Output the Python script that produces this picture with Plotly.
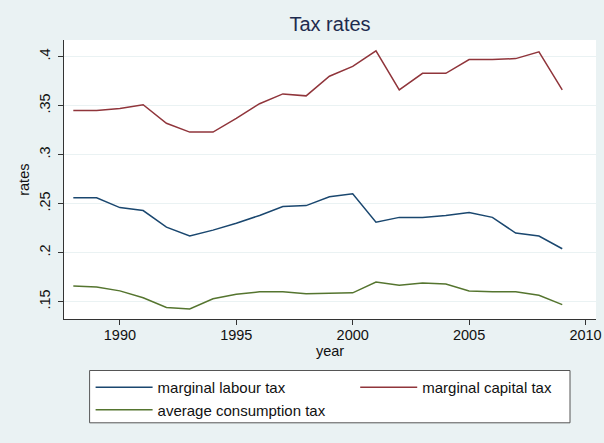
import plotly.graph_objects as go

years = list(range(1988, 2010))
labour = [0.256, 0.256, 0.246, 0.243, 0.226, 0.217, 0.223, 0.230, 0.238, 0.247, 0.248,
          0.257, 0.260, 0.231, 0.236, 0.236, 0.238, 0.241, 0.236, 0.220, 0.217, 0.204]
capital = [0.345, 0.345, 0.347, 0.351, 0.332, 0.323, 0.323, 0.337, 0.352, 0.362, 0.360,
           0.380, 0.390, 0.406, 0.366, 0.383, 0.383, 0.397, 0.397, 0.398, 0.405, 0.366]
consumption = [0.166, 0.165, 0.161, 0.154, 0.144, 0.1425, 0.153, 0.1575, 0.160, 0.160, 0.158,
               0.1585, 0.159, 0.170, 0.1667, 0.169, 0.168, 0.161, 0.160, 0.160, 0.1565, 0.147]

x_ticks = [1990, 1995, 2000, 2005, 2010]
y_ticks = [0.15, 0.2, 0.25, 0.3, 0.35, 0.4]
y_ticklabels = [".15", ".2", ".25", ".3", ".35", ".4"]

NB = "\u00a0"
series = [
    ("marginal labour tax", labour, "#1A476F"),
    ("marginal capital tax", capital, "#90353B"),
    ("average consumption tax" + NB * 6, consumption, "#55752F"),
]

FONT = "Liberation Sans, Arial, sans-serif"
W, H = 604, 443
PL, PR, PT, PB = 64, 596, 40, 319.3          # plot area in pixels
LG_L, LG_R, LG_T, LG_B = 89.6, 570, 370.5, 422.8  # legend box in pixels

fig = go.Figure()
for name, vals, col in series:
    fig.add_trace(go.Scatter(x=years, y=vals, mode="lines", name=name,
                             line=dict(color=col, width=1.5)))

# legend frame (white box with dark border)
fig.add_shape(type="rect", xref="paper", yref="paper",
              x0=LG_L / W, x1=LG_R / W, y0=1 - LG_B / H, y1=1 - LG_T / H,
              fillcolor="white", line=dict(color="#555555", width=1), layer="below")

fig.update_layout(
    width=W, height=H,
    paper_bgcolor="#EAF2F3", plot_bgcolor="white",
    margin=dict(l=0, r=0, t=0, b=0, autoexpand=False),
    font=dict(family=FONT, size=14.5, color="#111111"),
    title=dict(text="Tax rates", x=(PL + PR) / 2 / W, xanchor="center", xref="paper",
               y=1 - 24 / H, yanchor="middle",
               font=dict(family=FONT, size=20, color="#1E2B4E")),
    xaxis=dict(domain=[PL / W, PR / W], range=[1987.6, 2010.45], tickvals=x_ticks,
               showgrid=False, zeroline=False,
               showline=True, linecolor="#333333", linewidth=1, automargin=False,
               ticks="outside", ticklen=5, tickcolor="#333333", ticklabelstandoff=-3,
               title=dict(text="year", standoff=0, font=dict(size=14.5))),
    yaxis=dict(domain=[1 - PB / H, 1 - PT / H], range=[0.132, 0.417],
               tickvals=y_ticks, ticktext=y_ticklabels,
               tickangle=-90, showgrid=True, gridcolor="#EAF2F3", gridwidth=1,
               zeroline=False, showline=True, linecolor="#333333", linewidth=1,
               ticks="outside", ticklen=5, tickcolor="#333333", automargin=False,
               ticklabelstandoff=2,
               title=dict(text="rates", standoff=4, font=dict(size=14.5))),
    legend=dict(orientation="h", x=90.6 / W, xanchor="left",
                y=1 - 371 / H, yanchor="top",
                bgcolor="rgba(0,0,0,0)", borderwidth=0,
                itemwidth=57, font=dict(size=15, color="#111111"),
                traceorder="normal"),
    showlegend=True,
)

fig.write_html("out.html", config={"displayModeBar": False},
               post_script="document.body.style.margin='0px';document.body.style.padding='0px';")
